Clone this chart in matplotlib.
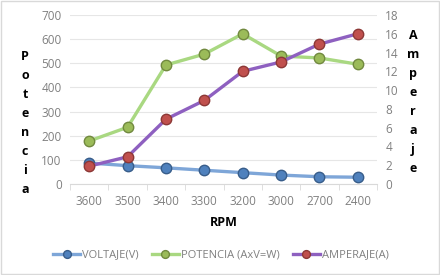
'''Recreates the RPM vs voltaje / potencia / amperaje chart'''
import matplotlib.pyplot as plt
import numpy as np

rpm = ['3600', '3500', '3400', '3300', '3200', '3000', '2700', '2400']
voltaje = [87, 76, 67, 57, 47, 37, 30, 28]
potencia = [178, 235, 493, 538, 622, 530, 522, 496]
amperaje = [1.9, 2.9, 6.9, 8.9, 12.0, 13.0, 14.9, 16.0]

plt.rcParams['font.family'] = ['Open Sans', 'DejaVu Sans']
grey = '#808080'

fig = plt.figure(figsize=(4.4, 2.75), dpi=100)
ax = fig.add_axes([70 / 440, 1 - 184 / 275, 307 / 440, 169 / 275])
ax2 = ax.twinx()

x = np.arange(len(rpm))
l1, = ax.plot(x, voltaje, color='#7ea6d8', lw=2.4, marker='o', ms=7.5,
              mfc='#4f81bd', mec='#385d8a', mew=1, label='VOLTAJE(V)', zorder=3)
l2, = ax.plot(x, potencia, color='#a9d881', lw=2.4, marker='o', ms=7.5,
              mfc='#9bbb59', mec='#71893f', mew=1, label='POTENCIA (AxV=W)', zorder=3)
l3, = ax2.plot(x, amperaje, color='#8e60c0', lw=2.4, marker='o', ms=7.5,
               mfc='#c0504d', mec='#8c3836', mew=1, label='AMPERAJE(A)', zorder=3)

ax.set_xlim(-0.5, len(rpm) - 0.5)
ax.set_ylim(0, 700)
ax2.set_ylim(0, 18)
ax.set_yticks(range(0, 701, 100))
ax2.set_yticks(range(0, 19, 2))
ax.set_xticks(x)
ax.set_xticklabels(rpm)
ax.set_xticks(np.arange(-0.5, len(rpm), 1), minor=True)
ax.grid(axis='y', color='#e6e6e6', lw=0.8)
ax.set_axisbelow(True)

for a in (ax, ax2):
    for s in a.spines.values():
        s.set_visible(False)
    a.tick_params(colors=grey, labelsize=8.5, length=0)
ax.spines['bottom'].set_visible(True)
ax.spines['bottom'].set_color('#d9d9d9')
ax.tick_params(axis='x', which='minor', length=4, color='#d9d9d9')
ax.tick_params(axis='x', pad=8)
ax.tick_params(axis='y', pad=6)
ax2.tick_params(axis='y', pad=6)

ax.set_xlabel('RPM', fontsize=9, fontweight='bold', labelpad=6)
fig.text(25 / 440, 1 - 123 / 275, '\n'.join('Potencia'), ha='center', va='center',
         fontsize=9, fontweight='bold', linespacing=1.6)
fig.text(413 / 440, 1 - 102 / 275, '\n'.join('Amperaje'), ha='center', va='center',
         fontsize=9, fontweight='bold', linespacing=1.6)

fig.legend(handles=[l1, l2, l3], loc='center', bbox_to_anchor=(221 / 440, 1 - 255 / 275),
           ncol=3, frameon=False, fontsize=8, labelcolor=grey, handlelength=2.4,
           columnspacing=1.2, handletextpad=0.2, markerscale=0.75)

fig.patches.append(plt.Rectangle((0.002, 0.003), 0.995, 0.993, transform=fig.transFigure,
                                 fill=False, edgecolor='#d9d9d9', lw=1))
fig.savefig('out.png')
